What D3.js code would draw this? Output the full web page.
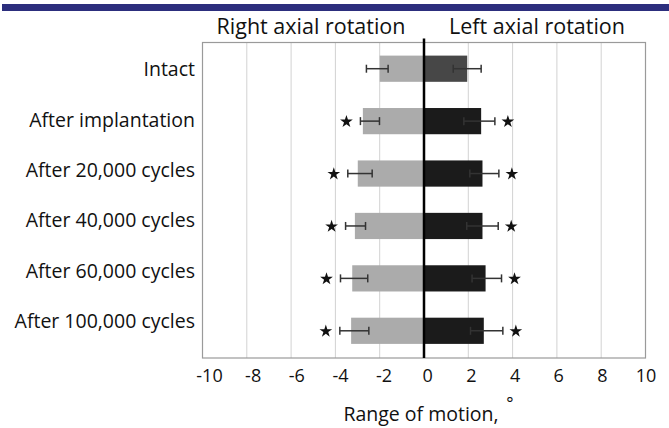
<!DOCTYPE html>
<html><head><meta charset="utf-8">
<script src="https://cdn.jsdelivr.net/npm/d3@7"></script>
<style>
html,body{margin:0;padding:0;background:#fff;}
svg{display:block;font-family:"Open Sans",sans-serif;}
</style></head>
<body><svg id="c" width="669" height="428"></svg>
<script>
const categories = ["Intact","After implantation","After 20,000 cycles","After 40,000 cycles","After 60,000 cycles","After 100,000 cycles"];
const rightRotation = [-2.0, -2.76, -2.99, -3.12, -3.24, -3.29];
const rightErrLow   = [-2.6, -2.87, -3.44, -3.54, -3.77, -3.8];
const rightErrHigh  = [-1.62, -2.01, -2.34, -2.64, -2.54, -2.49];
const leftRotation  = [1.95, 2.58, 2.64, 2.64, 2.78, 2.7];
const leftErrLow    = [1.32, 1.8, 2.07, 1.93, 2.17, 2.1];
const leftErrHigh   = [2.58, 3.2, 3.38, 3.35, 3.5, 3.56];
const significant   = [false, true, true, true, true, true];
const xTicks = [-10,-8,-6,-4,-2,0,2,4,6,8,10];
const headers = ["Right axial rotation","Left axial rotation"];
const xTitle = "Range of motion,";

const svg = d3.select("#c");
const L = 202.5, R = 645.5, T = 42.5, B = 358;
const x = d3.scaleLinear().domain([-10,10]).range([L,R]);
const xLab = d3.scaleLinear().domain([-10,10]).range([209.5,646]);
const y = d3.scaleBand().domain(categories).range([T,357]).paddingInner(0.5).paddingOuter(0.25);
const yLab = d3.scalePoint().domain(categories).range([69.3,321]);

// top banner
svg.append("rect").attr("x",2).attr("y",4).attr("width",667).attr("height",7).attr("fill","#2c2e7d");

// grid
svg.append("g").selectAll("line").data(xTicks.filter(t=>t>-10&&t<10&&t!==0)).join("line")
  .attr("x1",d=>x(d)).attr("x2",d=>x(d)).attr("y1",T).attr("y2",B)
  .attr("stroke","#d2d2d2").attr("stroke-width",1);
svg.append("rect").attr("x",L).attr("y",T).attr("width",R-L).attr("height",B-T)
  .attr("fill","none").attr("stroke","#9a9a9a").attr("stroke-width",1.2);

// bars
const rows = categories.map((c,i)=>({c,i}));
svg.append("g").selectAll("rect").data(rows).join("rect")
  .attr("x",d=>x(rightRotation[d.i])).attr("width",d=>x(0)-x(rightRotation[d.i]))
  .attr("y",d=>y(d.c)).attr("height",y.bandwidth()).attr("fill","#ababab");
svg.append("g").selectAll("rect").data(rows).join("rect")
  .attr("x",x(0)).attr("width",d=>x(leftRotation[d.i])-x(0))
  .attr("y",d=>y(d.c)).attr("height",y.bandwidth()).attr("fill",d=>d.i===0?"#474747":"#1b1b1b");

// error bars
function errs(lo,hi){
  const g = svg.append("g").attr("stroke","#333").attr("stroke-width",1.5);
  rows.forEach(d=>{
    const cy = y(d.c)+y.bandwidth()/2;
    g.append("line").attr("x1",x(lo[d.i])).attr("x2",x(hi[d.i])).attr("y1",cy).attr("y2",cy);
    [lo[d.i],hi[d.i]].forEach(v=>g.append("line").attr("x1",x(v)).attr("x2",x(v)).attr("y1",cy-4).attr("y2",cy+4));
  });
}
errs(rightErrLow,rightErrHigh);
errs(leftErrLow,leftErrHigh);

// stars
const star = d3.symbol().type(d3.symbolStar).size(50);
rows.filter(d=>significant[d.i]).forEach(d=>{
  const cy = y(d.c)+y.bandwidth()/2;
  svg.append("path").attr("d",star).attr("transform",`translate(${x(rightErrLow[d.i])-14},${cy+0.5})`).attr("fill","#111");
  svg.append("path").attr("d",star).attr("transform",`translate(${x(leftErrHigh[d.i])+13},${cy+0.5})`).attr("fill","#111");
});

// zero line
svg.append("line").attr("x1",x(0)).attr("x2",x(0)).attr("y1",T-4).attr("y2",B)
  .attr("stroke","#000").attr("stroke-width",2.5);

// category labels
svg.append("g").selectAll("text").data(categories).join("text")
  .attr("x",195).attr("y",d=>yLab(d)+7).attr("text-anchor","end")
  .attr("font-size",19.5).attr("fill","#111").text(d=>d);

// tick labels
svg.append("g").selectAll("text").data(xTicks).join("text")
  .attr("x",d=>xLab(d)).attr("y",382).attr("text-anchor","middle")
  .attr("font-size",18).attr("fill","#111").text(d=>d);

// headers
svg.append("text").attr("x",311).attr("y",34).attr("text-anchor","middle").attr("font-size",21.5).attr("fill","#111").text(headers[0]);
svg.append("text").attr("x",537).attr("y",34).attr("text-anchor","middle").attr("font-size",21.5).attr("fill","#111").text(headers[1]);

// axis title
svg.append("text").attr("x",421).attr("y",421).attr("text-anchor","middle").attr("font-size",19.5).attr("fill","#111").text(xTitle);
svg.append("text").attr("x",510).attr("y",409).attr("text-anchor","middle").attr("font-size",17).attr("fill","#111").text("°");
</script></body></html>
